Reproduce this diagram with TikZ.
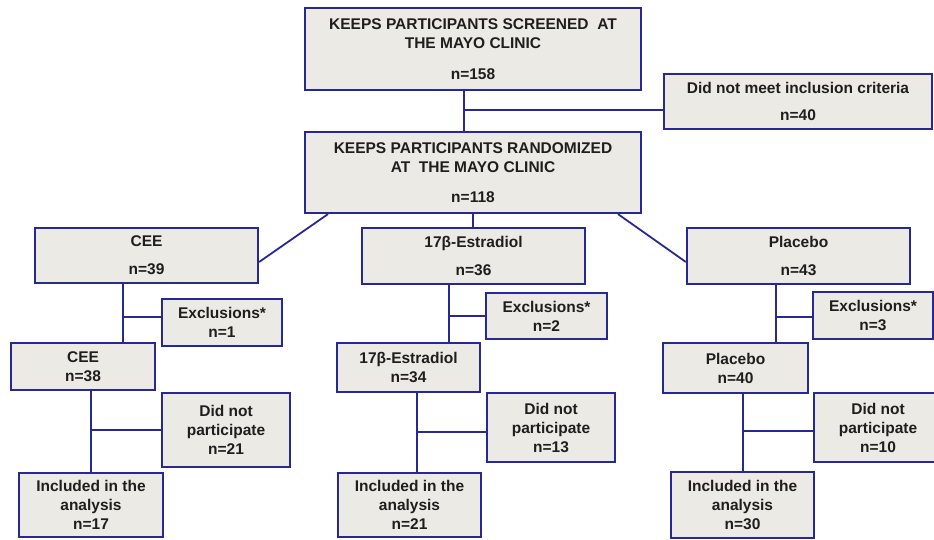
\documentclass[tikz,border=0pt]{standalone}
\usepackage{fontspec}
\setmainfont{Liberation Sans}
\definecolor{boxblue}{RGB}{40,40,148}
\definecolor{boxfill}{RGB}{236,234,228}
\definecolor{boxtext}{RGB}{30,30,30}

\tikzstyle{rect} = [rectangle, draw=boxblue, fill=boxfill, line width=2.2pt, inner sep=0pt, align=center, text=boxtext, font=\bfseries\fontsize{15.5}{19}\selectfont]
\tikzstyle{link} = [draw=boxblue, line width=1.8pt]

\begin{document}
\begin{tikzpicture}[x=1pt, y=-1pt]
\useasboundingbox (0,0) rectangle (934,540);

\node (screened) [rect, minimum width=336pt, minimum height=82pt] at (473,49) {KEEPS PARTICIPANTS SCREENED\ \ AT\\THE MAYO CLINIC\\[12pt]n=158};

\node (notmet) [rect, minimum width=268pt, minimum height=55pt] at (798,101.5) {Did not meet inclusion criteria\\[8pt]n=40};

\node (randomized) [rect, minimum width=336pt, minimum height=81pt] at (473,172.5) {KEEPS PARTICIPANTS RANDOMIZED\\AT\ \ THE MAYO CLINIC\\[11pt]n=118};

\node (cee) [rect, minimum width=223pt, minimum height=55pt] at (146.5,255.5) {CEE\\[9pt]n=39};
\node (estradiol) [rect, minimum width=223pt, minimum height=56pt] at (473.5,256) {17β-Estradiol\\[9pt]n=36};
\node (placebo) [rect, minimum width=223pt, minimum height=56pt] at (798.5,256) {Placebo\\[9pt]n=43};

\node (ceeexcl) [rect, minimum width=120pt, minimum height=47pt] at (222,322.5) {Exclusions*\\n=1};
\node (estexcl) [rect, minimum width=121pt, minimum height=46pt] at (546.5,316) {Exclusions*\\n=2};
\node (plaexcl) [rect, minimum width=120pt, minimum height=47pt] at (873,315.5) {Exclusions*\\n=3};

\node (ceekept) [rect, minimum width=144pt, minimum height=47pt] at (83,366.5) {CEE\\n=38};
\node (estkept) [rect, minimum width=143pt, minimum height=49pt] at (408.5,367.5) {17β-Estradiol\\n=34};
\node (plakept) [rect, minimum width=145pt, minimum height=50pt] at (735.5,368) {Placebo\\n=40};

\node (ceeout) [rect, minimum width=128pt, minimum height=74pt] at (226,430) {Did not\\participate\\n=21};
\node (estout) [rect, minimum width=128pt, minimum height=69pt] at (551,427.5) {Did not\\participate\\n=13};
\node (plaout) [rect, minimum width=128pt, minimum height=69pt] at (878,427.5) {Did not\\participate\\n=10};

\node (ceeincl) [rect, minimum width=144pt, minimum height=64pt] at (91,505) {Included in the\\analysis\\n=17};
\node (estincl) [rect, minimum width=143pt, minimum height=64pt] at (409.5,505) {Included in the\\analysis\\n=21};
\node (plaincl) [rect, minimum width=143pt, minimum height=66pt] at (742.5,505) {Included in the\\analysis\\n=30};

% screening
\coordinate (screenjoin) at (464,110);
\draw[link] (screenjoin |- screened.south) -- (screenjoin |- randomized.north);
\draw[link] (screenjoin) -- (screenjoin -| notmet.west);

% randomization
\draw[link] ([xshift=-145pt]randomized.south) -- ([yshift=-6.5pt]cee.east);
\draw[link] (randomized.south) -- (randomized.south |- estradiol.north);
\draw[link] ([xshift=145pt]randomized.south) -- ([yshift=-6pt]placebo.west);

% CEE
\coordinate (ceejoin) at (123,317);
\draw[link] (ceejoin |- cee.south) -- (ceejoin |- ceekept.north);
\draw[link] (ceejoin) -- (ceejoin -| ceeexcl.west);
\coordinate (ceesplit) at (91,430);
\draw[link] (ceesplit |- ceekept.south) -- (ceesplit |- ceeincl.north);
\draw[link] (ceesplit) -- (ceesplit -| ceeout.west);

% 17beta-estradiol
\coordinate (estjoin) at (449,316);
\draw[link] (estjoin |- estradiol.south) -- (estjoin |- estkept.north);
\draw[link] (estjoin) -- (estjoin -| estexcl.west);
\coordinate (estsplit) at (417,432);
\draw[link] (estsplit |- estkept.south) -- (estsplit |- estincl.north);
\draw[link] (estsplit) -- (estsplit -| estout.west);

% placebo
\coordinate (plajoin) at (776,317);
\draw[link] (plajoin |- placebo.south) -- (plajoin |- plakept.north);
\draw[link] (plajoin) -- (plajoin -| plaexcl.west);
\coordinate (plasplit) at (743,431);
\draw[link] (plasplit |- plakept.south) -- (plasplit |- plaincl.north);
\draw[link] (plasplit) -- (plasplit -| plaout.west);

\end{tikzpicture}
\end{document}
